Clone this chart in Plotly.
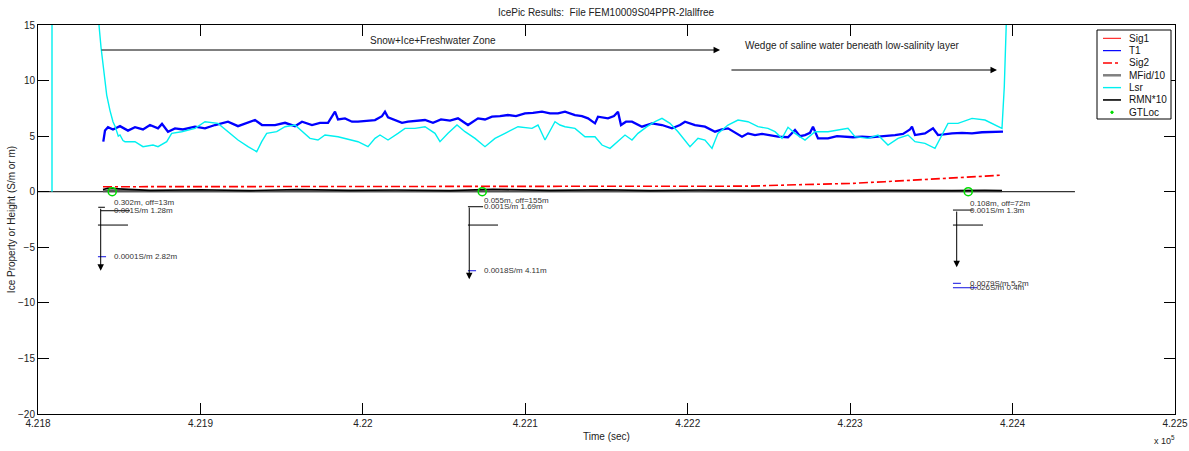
import plotly.graph_objects as go

# ---------------- data (time in seconds, values in S/m or m) ----------------
t1_time = [421840.20, 421841.25, 421843.10, 421846.17, 421850.48, 421855.41, 421859.72, 421864.64,
           421868.95, 421873.88, 421876.34, 421880.03, 421884.34, 421889.27, 421896.66, 421902.81,
           421908.97, 421916.97, 421923.13, 421929.29, 421933.60, 421937.91, 421945.91, 421952.07,
           421958.22, 421962.53, 421968.69, 421973.61, 421978.54, 421982.85, 421984.70, 421989.00,
           421993.31, 421997.01, 422001.93, 422007.47, 422011.78, 422013.63, 422015.48, 422019.79,
           422024.10, 422027.79, 422032.72, 422038.26, 422043.18, 422048.11, 422053.65, 422058.57,
           422064.73, 422070.89, 422075.20, 422079.51, 422084.43, 422089.36, 422094.28, 422099.82,
           422104.75, 422110.29, 422115.21, 422120.14, 422124.45, 422130.60, 422134.91, 422138.61,
           422142.92, 422144.76, 422150.92, 422154.61, 422157.08, 422158.92, 422162.00, 422165.70,
           422171.85, 422178.01, 422184.17, 422190.32, 422195.25, 422198.33, 422204.48, 422210.64,
           422216.80, 422221.10, 422224.80, 422229.11, 422233.42, 422237.11, 422241.42, 422245.73,
           422249.42, 422255.58, 422261.74, 422266.05, 422269.13, 422272.20, 422275.28, 422277.13,
           422280.21, 422286.36, 422291.90, 422296.83, 422301.75, 422307.30, 422312.22, 422317.15,
           422322.69, 422327.61, 422332.54, 422336.85, 422338.08, 422339.93, 422346.08, 422349.16,
           422351.01, 422354.09, 422358.40, 422362.70, 422368.86, 422375.02, 422381.17, 422387.33,
           422394.10]
t1_value = [4.5, 5.5, 5.8, 5.6, 5.9, 5.5, 5.8, 5.6,
            6.0, 5.7, 6.1, 5.4, 5.7, 5.6, 5.85, 5.7,
            6.0, 6.3, 5.9, 6.2, 6.45, 6.0, 6.0, 6.2,
            5.9, 6.3, 6.0, 6.2, 6.2, 7.2, 6.5, 6.6,
            6.3, 6.3, 6.4, 6.45, 6.8, 7.2, 6.7, 6.45,
            6.2, 6.3, 6.4, 6.45, 6.2, 6.5, 6.4, 6.6,
            6.0, 6.6, 6.5, 6.75, 6.8, 6.9, 6.8, 7.05,
            7.1, 7.2, 7.05, 7.05, 7.2, 6.9, 6.8, 6.6,
            6.15, 6.75, 6.6, 6.8, 7.2, 6.0, 6.3, 6.3,
            5.85, 6.15, 6.0, 5.7, 6.0, 6.3, 6.0, 5.85,
            5.4, 5.6, 5.7, 5.3, 4.95, 5.25, 5.1, 5.2,
            5.1, 4.95, 4.9, 5.55, 5.0, 5.1, 5.3, 5.85,
            4.8, 4.8, 5.0, 4.95, 4.9, 4.95, 4.9, 4.95,
            5.0, 5.1, 5.2, 5.6, 5.85, 5.1, 5.25, 5.5,
            5.7, 5.1, 5.2, 5.25, 5.3, 5.25, 5.35, 5.4,
            5.4]

lsr_time = [421808.62, 421808.62, 421837.00, 421837.55, 421838.79, 421840.20, 421842.30, 421844.33,
            421846.17, 421847.41, 421849.44, 421850.48, 421852.33, 421853.56, 421859.72, 421864.64,
            421870.80, 421873.88, 421879.23, 421882.31, 421888.47, 421896.66, 421902.81, 421910.82,
            421916.97, 421923.13, 421929.29, 421934.64, 421937.72, 421940.80, 421946.96, 421952.07,
            421958.22, 421963.15, 421967.46, 421972.38, 421976.69, 421984.70, 421993.31, 421997.01,
            422003.16, 422007.47, 422010.55, 422015.48, 422021.63, 422025.94, 422032.10, 422038.26,
            422044.41, 422047.49, 422052.42, 422057.96, 422062.88, 422069.04, 422075.20, 422081.35,
            422087.51, 422095.51, 422104.13, 422107.83, 422112.13, 422118.29, 422121.37, 422124.45,
            422130.60, 422136.76, 422142.92, 422147.23, 422152.15, 422157.08, 422161.39, 422165.70,
            422169.39, 422174.93, 422179.86, 422184.17, 422189.09, 422194.02, 422198.33, 422201.40,
            422206.33, 422210.64, 422214.95, 422218.64, 422224.80, 422230.96, 422237.11, 422243.27,
            422249.42, 422253.73, 422258.04, 422261.74, 422266.05, 422272.20, 422278.36, 422286.36,
            422292.52, 422298.68, 422302.99, 422310.99, 422317.15, 422323.30, 422329.46, 422335.62,
            422339.93, 422346.08, 422352.24, 422356.55, 422360.24, 422366.40, 422375.02, 422383.02,
            422389.18, 422393.49, 422394.90, 422396.38, 422397.18]
lsr_value = [0.0, 40.0, 40.0, 15.0, 13.0, 11.25, 8.7, 7.3,
             6.3, 5.9, 5.0, 5.1, 4.6, 4.5, 4.5, 4.05,
             4.2, 4.05, 4.5, 5.25, 5.4, 5.7, 6.3, 6.15,
             5.4, 4.65, 4.05, 3.6, 4.5, 5.25, 5.4, 5.85,
             6.0, 5.4, 4.8, 4.65, 5.1, 4.95, 4.65, 4.5,
             4.05, 4.8, 5.1, 4.65, 5.25, 5.7, 5.7, 5.85,
             5.25, 4.5, 5.25, 6.0, 5.4, 4.8, 4.05, 4.8,
             5.25, 5.85, 5.7, 6.0, 4.65, 6.3, 6.0, 5.85,
             5.7, 4.95, 4.95, 4.2, 3.9, 4.5, 5.1, 4.65,
             5.25, 5.85, 6.3, 6.6, 6.15, 5.4, 4.65, 4.05,
             4.8, 4.65, 3.9, 5.25, 6.0, 6.45, 6.3, 5.85,
             5.7, 5.4, 4.8, 5.8, 5.25, 4.65, 5.4, 5.4,
             5.55, 5.7, 4.95, 4.8, 5.1, 4.2, 4.8, 5.1,
             4.5, 4.35, 3.9, 5.1, 6.15, 6.15, 6.6, 6.45,
             6.0, 5.7, 9.45, 15.5, 20.0]

sig2_time = [421840.02, 421868.95, 421930.52, 421992.08, 422053.65, 422115.21, 422176.78, 422207.56,
             422238.34, 422259.89, 422281.44, 422301.14, 422321.46, 422341.77, 422362.70, 422383.02,
             422393.49]
sig2_value = [0.45, 0.45, 0.45, 0.5, 0.5, 0.5, 0.45, 0.45,
              0.5, 0.6, 0.65, 0.75, 0.9, 1.05, 1.2, 1.4,
              1.5]

low_time = [421840.0, 421843.0, 421869.0, 421900.0, 421930.5, 421960.0, 421992.1, 422020.0,
            422053.7, 422080.0, 422115.2, 422150.0, 422176.8, 422207.6, 422238.3, 422260.0,
            422281.4, 422301.1, 422321.5, 422341.8, 422362.7, 422383.0, 422393.5]
rmn_value = [0.2, 0.3, 0.12, 0.18, 0.1, 0.2, 0.12, 0.15,
             0.1, 0.22, 0.12, 0.18, 0.1, 0.15, 0.12, 0.1,
             0.14, 0.1, 0.12, 0.08, 0.1, 0.12, 0.1]
mfid_value = [0.05, 0.06, 0.05, 0.04, 0.05, 0.05, 0.04, 0.05,
              0.05, 0.04, 0.05, 0.05, 0.04, 0.05, 0.05, 0.04,
              0.05, 0.05, 0.04, 0.05, 0.05, 0.04, 0.05]
sig1_value = [0.03, 0.03, 0.03, 0.03, 0.03, 0.03, 0.03, 0.03,
              0.03, 0.03, 0.03, 0.03, 0.03, 0.03, 0.03, 0.03,
              0.03, 0.03, 0.03, 0.03, 0.03, 0.03, 0.03]

zero_time = [421800.0, 422438.4]
zero_value = [0.0, 0.0]

gt_time = [421845.7, 422073.5, 422372.7]
gt_value = [0.0, 0.0, 0.0]
gt_labels = ["0.302m, off=13m", "0.055m, off=155m", "0.108m, off=72m"]
gt_label_value = [-0.95, -0.81, -1.04]

profile_time = [421838.6, 422065.5, 422365.6]
profile_top = [-1.40, -1.29, -1.65]
profile_tip = [-7.1, -7.88, -6.8]
mid_value = [-3.0, -3.0, -3.0]
mid_start = [421836.9, 422064.7, 422363.3]
mid_end = [421855.4, 422083.2, 422381.8]

layer_profile = [0, 0, 1, 1, 2, 2, 2]
layer_labels = ["0.001S/m 1.28m", "0.0001S/m 2.82m", "0.001S/m 1.69m", "0.0018S/m 4.11m",
                "0.001S/m 1.3m", "0.0079S/m 5.2m", "0.026S/m 0.4m"]
layer_value = [-1.71, -5.85, -1.35, -7.11, -1.65, -8.24, -8.64]
layer_start = [421838.6, 421836.9, 422064.7, 422064.7, 422363.3, 422363.3, 422363.3]
layer_end = [421856.6, 421841.9, 422074.0, 422069.7, 422375.6, 422368.2, 422378.1]
layer_color = ["black", "#1010e0", "black", "#1010e0", "black", "#1010e0", "#1010e0"]

top_tick_value = [-1.40]
top_tick_start = [421837.1]
top_tick_end = [421841.2]

zone_labels = ["Snow+Ice+Freshwater Zone", "Wedge of saline water beneath low-salinity layer"]
zone_text_time = [422043.2, 422301.0]
zone_text_value = [13.65, 13.2]
zone_arrow_start = [421838.2, 422226.0]
zone_arrow_end = [422219.9, 422390.4]
zone_arrow_value = [12.75, 10.95]

x_tick_vals = [421800, 421900, 422000, 422100, 422200, 422300, 422400, 422500]
x_tick_text = ["4.218", "4.219", "4.22", "4.221", "4.222", "4.223", "4.224", "4.225"]
y_tick_vals = [-20, -15, -10, -5, 0, 5, 10, 15]

legend_names = ["Sig1", "T1", "Sig2", "MFid/10", "Lsr", "RMN*10", "GTLoc"]

# ---------------- figure ----------------
FONT = "Liberation Sans, Arial, Helvetica, sans-serif"
fig = go.Figure()

fig.add_trace(go.Scatter(x=zero_time, y=zero_value, mode="lines",
                         line=dict(color="black", width=1), hoverinfo="skip"))
fig.add_trace(go.Scatter(x=low_time, y=sig1_value, mode="lines", name=legend_names[0],
                         line=dict(color="red", width=1)))
fig.add_trace(go.Scatter(x=t1_time, y=t1_value, mode="lines", name=legend_names[1],
                         line=dict(color="#0000ff", width=2.3)))
fig.add_trace(go.Scatter(x=sig2_time, y=sig2_value, mode="lines", name=legend_names[2],
                         line=dict(color="red", width=1.6, dash="dashdot")))
fig.add_trace(go.Scatter(x=low_time, y=mfid_value, mode="lines", name=legend_names[3],
                         line=dict(color="#555555", width=2)))
fig.add_trace(go.Scatter(x=lsr_time, y=lsr_value, mode="lines", name=legend_names[4],
                         line=dict(color="#00f0f0", width=1.4)))
fig.add_trace(go.Scatter(x=low_time, y=rmn_value, mode="lines", name=legend_names[5],
                         line=dict(color="black", width=1.6)))
fig.add_trace(go.Scatter(x=gt_time, y=gt_value, mode="markers", name=legend_names[6],
                         marker=dict(symbol="circle-open", color="#00dd00", size=8,
                                     line=dict(width=1.6, color="#00dd00"))))

# profiles
for i in range(len(profile_time)):
    fig.add_trace(go.Scatter(x=[mid_start[i], mid_end[i]], y=[mid_value[i], mid_value[i]],
                             mode="lines", line=dict(color="black", width=1), hoverinfo="skip"))
    fig.add_annotation(x=profile_time[i], y=profile_tip[i], ax=profile_time[i], ay=profile_top[i],
                       xref="x", yref="y", axref="x", ayref="y", text="", showarrow=True,
                       arrowhead=2, arrowsize=1.3, arrowwidth=1, arrowcolor="black")
    fig.add_annotation(x=gt_time[i], y=gt_label_value[i], text=gt_labels[i], showarrow=False,
                       xanchor="left", yanchor="middle",
                       font=dict(family=FONT, size=8, color="#333333"))
for i in range(len(top_tick_value)):
    fig.add_trace(go.Scatter(x=[top_tick_start[i], top_tick_end[i]],
                             y=[top_tick_value[i], top_tick_value[i]],
                             mode="lines", line=dict(color="black", width=1), hoverinfo="skip"))
for i in range(len(layer_value)):
    fig.add_trace(go.Scatter(x=[layer_start[i], layer_end[i]], y=[layer_value[i], layer_value[i]],
                             mode="lines", line=dict(color=layer_color[i], width=1), hoverinfo="skip"))
    fig.add_annotation(x=gt_time[layer_profile[i]], y=layer_value[i], text=layer_labels[i],
                       showarrow=False, xanchor="left", yanchor="middle",
                       font=dict(family=FONT, size=8, color="#333333"))

# zone arrows
for i in range(len(zone_labels)):
    fig.add_annotation(x=zone_arrow_end[i], y=zone_arrow_value[i], ax=zone_arrow_start[i],
                       ay=zone_arrow_value[i], xref="x", yref="y", axref="x", ayref="y",
                       text="", showarrow=True, arrowhead=2, arrowsize=1.3, arrowwidth=1,
                       arrowcolor="black")
    fig.add_annotation(x=zone_text_time[i], y=zone_text_value[i], text=zone_labels[i],
                       showarrow=False, xanchor="center", yanchor="middle",
                       font=dict(family=FONT, size=10, color="#222222"))

# manual MATLAB-style legend (paper coordinates)
W, H, L, T = 1189, 451, 38, 25
PW, PH = 1175 - L, 414 - T
def px(x):
    return (x - L) / PW
def py(y):
    return (414 - y) / PH

fig.add_shape(type="rect", xref="paper", yref="paper", x0=px(1097), x1=px(1171),
              y0=py(119), y1=py(30), line=dict(color="black", width=1),
              fillcolor="white", layer="above")
for i, tr in enumerate(fig.data[1:8]):
    yc = py(38.3 + 12.33 * i)
    if tr.mode == "lines":
        dash = tr.line.dash if tr.line.dash else "solid"
        w = tr.line.width
        col = tr.line.color
        if tr.name == "MFid/10":
            col, w = "#808080", 2.5
        if tr.name == "T1":
            w = 1.2
        fig.add_shape(type="line", xref="paper", yref="paper", x0=px(1103), x1=px(1121),
                      y0=yc, y1=yc, line=dict(color=col, width=w, dash=dash), layer="above")
    else:
        fig.add_shape(type="circle", xref="paper", yref="paper",
                      x0=px(1110.8), x1=px(1113.2), y0=yc - 1.2 / PH, y1=yc + 1.2 / PH,
                      line=dict(color="#00dd00", width=1), fillcolor="#00dd00", layer="above")
    fig.add_annotation(x=px(1126.5), y=yc, xref="paper", yref="paper", text=tr.name,
                       showarrow=False, xanchor="left", yanchor="middle",
                       font=dict(family=FONT, size=10, color="#111111"))

fig.add_annotation(x=px(1152), y=py(440), xref="paper", yref="paper", text="x 10<sup>5</sup>",
                   showarrow=False, xanchor="left", yanchor="middle",
                   font=dict(family=FONT, size=9, color="#222222"))

axis_common = dict(showline=True, linecolor="black", linewidth=1, mirror="ticks",
                   ticks="inside", ticklen=11, tickcolor="black", tickwidth=1,
                   showgrid=False, zeroline=False,
                   tickfont=dict(family=FONT, size=10, color="#222222"))
fig.update_xaxes(range=[421800, 422500], tickvals=x_tick_vals, ticktext=x_tick_text,
                 title=dict(text="Time (sec)", standoff=4,
                            font=dict(family=FONT, size=10, color="#222222")),
                 **axis_common)
fig.update_yaxes(range=[-20, 15], tickvals=y_tick_vals,
                 title=dict(text="Ice Property or Height (S/m or m)", standoff=0,
                            font=dict(family=FONT, size=10, color="#222222")),
                 **axis_common)

fig.update_layout(
    width=W, height=H,
    margin=dict(l=L, r=W - 1175, t=T, b=H - 414, autoexpand=False),
    paper_bgcolor="white", plot_bgcolor="white",
    showlegend=False,
    title=dict(text="IcePic Results:  File FEM10009S04PPR-2lallfree", x=px(606), xref="paper",
               xanchor="center", y=1 - 12 / H, yref="container", yanchor="middle",
               font=dict(family=FONT, size=10, color="#222222")),
)

fig.write_html("out.html")
